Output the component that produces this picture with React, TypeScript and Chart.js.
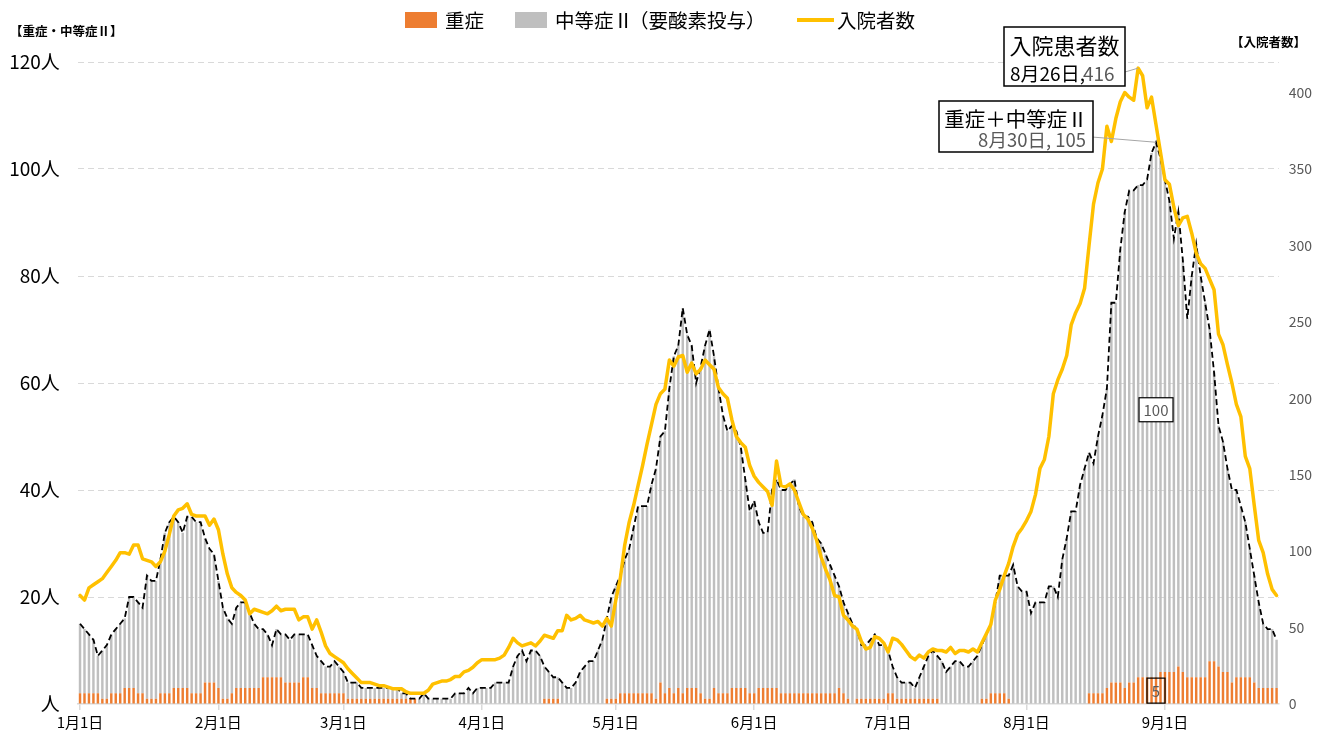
import React, { useEffect, useRef } from "react";
import { Chart, registerables } from "chart.js";

Chart.register(...registerables);

const FONT = '"Noto Sans CJK JP", "Noto Sans", sans-serif';

// Days per month shown (2021-01-01 .. 2021-09-26)
const MONTH_LENGTHS = [31, 28, 31, 30, 31, 30, 31, 31, 26];

const dayLabels: string[] = [];
const monthStartIdx: number[] = [];
MONTH_LENGTHS.forEach((len, m) => {
  monthStartIdx.push(dayLabels.length);
  for (let d = 1; d <= len; d++) dayLabels.push(`${m + 1}月${d}日`);
});

// 重症 (orange bars)
const SEVERE = [
  // Jan
  2, 2, 2, 2, 2, 1, 1, 2, 2, 2, 3, 3, 3, 2, 2, 1, 1, 1, 2, 2, 2, 3, 3, 3, 3, 2, 2, 2, 4, 4, 4,
  // Feb
  3, 1, 1, 2, 3, 3, 3, 3, 3, 3, 5, 5, 5, 5, 5, 4, 4, 4, 4, 5, 5, 3, 3, 2, 2, 2, 2, 2,
  // Mar
  2, 1, 1, 1, 1, 1, 1, 1, 1, 1, 1, 1, 1, 1, 1, 1, 1, 0, 0, 0, 0, 0, 0, 0, 0, 0, 0, 0, 0, 0, 0,
  // Apr
  0, 0, 0, 0, 0, 0, 0, 0, 0, 0, 0, 0, 0, 0, 1, 1, 1, 1, 0, 0, 0, 0, 0, 0, 0, 0, 0, 0, 1, 1,
  // May
  1, 2, 2, 2, 2, 2, 2, 2, 2, 1, 4, 2, 3, 2, 3, 2, 3, 3, 3, 2, 1, 1, 3, 2, 2, 2, 3, 3, 3, 3, 2,
  // Jun
  2, 3, 3, 3, 3, 3, 2, 2, 2, 2, 2, 2, 2, 2, 2, 2, 2, 2, 2, 3, 2, 1, 0, 1, 1, 1, 1, 1, 1, 1,
  // Jul
  2, 2, 1, 1, 1, 1, 1, 1, 1, 1, 1, 1, 0, 0, 0, 0, 0, 0, 0, 0, 0, 1, 1, 2, 2, 2, 2, 1, 0, 0, 0,
  // Aug
  0, 0, 0, 0, 0, 0, 0, 0, 0, 0, 0, 0, 0, 0, 2, 2, 2, 2, 3, 4, 4, 4, 3, 4, 4, 5, 5, 5, 5, 5, 6,
  // Sep
  6, 6, 6, 7, 6, 5, 5, 5, 5, 5, 8, 8, 7, 6, 6, 4, 5, 5, 5, 5, 4, 3, 3, 3, 3, 3,
];

// 重症＋中等症Ⅱ (dashed line / top of stacked bars)
const SEVERE_PLUS_MODERATE = [
  // Jan
  15, 14, 13, 12, 9, 10, 11, 13, 14, 15, 16, 20, 20, 19, 18, 24, 23, 23, 27, 32, 34, 35, 34, 32, 35, 35, 34, 34, 31, 29, 28,
  // Feb
  23, 18, 16, 15, 18, 19, 19, 17, 15, 14, 14, 13, 11, 14, 13, 13, 12, 13, 13, 13, 13, 11, 9, 8, 7, 7, 8, 7,
  // Mar
  6, 4, 4, 4, 3, 3, 3, 3, 3, 3, 3, 3, 3, 2, 2, 1, 1, 1, 2, 1, 1, 1, 1, 1, 1, 2, 2, 2, 3, 2, 3,
  // Apr
  3, 3, 3, 4, 4, 4, 4, 7, 9, 10, 8, 10, 10, 9, 7, 6, 5, 5, 4, 3, 3, 4, 6, 7, 8, 8, 10, 12, 16, 20,
  // May
  22, 24, 27, 29, 33, 37, 37, 37, 41, 44, 50, 51, 59, 65, 67, 74, 69, 67, 60, 63, 67, 70, 65, 59, 54, 51, 52, 51, 48, 42, 36,
  // Jun
  38, 34, 32, 32, 40, 42, 40, 40, 41, 42, 37, 35, 35, 34, 31, 30, 28, 26, 24, 22, 19, 17, 15, 14, 11, 11, 12, 13, 11, 11,
  // Jul
  10, 7, 5, 4, 4, 4, 3, 5, 7, 9, 10, 9, 8, 6, 7, 8, 8, 7, 7, 8, 9, 11, 13, 15, 19, 24, 24, 24, 26, 22, 21,
  // Aug
  21, 17, 19, 19, 19, 22, 22, 20, 27, 31, 36, 36, 41, 44, 47, 45, 50, 54, 59, 75, 75, 85, 92, 96, 96, 97, 97, 98, 103, 105, 102,
  // Sep
  98, 94, 87, 92, 83, 72, 80, 86, 80, 75, 70, 62, 52, 49, 44, 40, 40, 37, 34, 29, 24, 19, 15, 14, 14, 12,
];

// 入院者数 (yellow line, right axis)
const HOSPITALIZED = [
  // Jan
  71, 68, 76, 78, 80, 82, 86, 90, 94, 99, 99, 98, 104, 104, 95, 94, 93, 90, 93, 100, 111, 123, 127, 128, 131, 124, 123, 123, 123, 117, 121,
  // Feb
  114, 98, 85, 76, 73, 71, 68, 59, 62, 61, 60, 59, 61, 64, 61, 62, 62, 62, 55, 57, 57, 49, 55, 47, 38, 33, 31, 29,
  // Mar
  27, 23, 20, 17, 14, 14, 14, 13, 12, 12, 11, 10, 10, 10, 8, 7, 7, 7, 7, 9, 13, 14, 15, 15, 16, 18, 18, 21, 22, 24, 27,
  // Apr
  29, 29, 29, 29, 30, 32, 37, 43, 40, 38, 39, 40, 38, 41, 45, 44, 43, 48, 48, 58, 55, 56, 58, 55, 54, 53, 54, 51, 56, 51,
  // May
  68, 82, 104, 119, 130, 143, 156, 170, 183, 196, 203, 206, 225, 221, 227, 228, 217, 223, 216, 219, 225, 222, 219, 207, 203, 200, 186, 175, 171, 168, 156,
  // Jun
  149, 145, 142, 139, 130, 159, 143, 142, 144, 140, 132, 124, 121, 115, 107, 96, 88, 81, 71, 70, 58, 55, 51, 49, 41, 36, 37, 44, 43, 40,
  // Jul
  34, 43, 42, 39, 35, 31, 29, 32, 30, 34, 36, 35, 35, 34, 37, 33, 35, 35, 34, 36, 34, 40, 46, 52, 68, 75, 84, 92, 103, 111, 115,
  // Aug
  120, 126, 137, 154, 160, 175, 203, 212, 219, 228, 248, 256, 262, 272, 300, 327, 341, 350, 378, 368, 383, 394, 400, 397, 395, 416, 411, 390, 397, 379, 361,
  // Sep
  343, 340, 325, 313, 318, 319, 308, 295, 288, 285, 278, 271, 242, 235, 222, 210, 196, 188, 162, 154, 130, 107, 99, 85, 75, 71,
];

// 中等症Ⅱ (gray bars) = total − severe
const MODERATE = SEVERE_PLUS_MODERATE.map((t, i) => Math.max(t - SEVERE[i], 0));

const LEFT_TICKS = [0, 20, 40, 60, 80, 100, 120];
const RIGHT_TICKS = [0, 50, 100, 150, 200, 250, 300, 350, 400];

const LEGEND_ITEMS = ["重症", "中等症Ⅱ（要酸素投与）", "入院者数"];
const LEFT_TITLE = "【重症・中等症Ⅱ】";
const RIGHT_TITLE = "【入院者数】";

const PEAK_HOSP_IDX = 237; // 8月26日
const PEAK_TOTAL_IDX = 241; // 8月30日

const ORANGE = "#ED7D31";
const GRAY = "#BFBFBF";
const YELLOW = "#FFC000";

const overlayPlugin = {
  id: "overlay",
  afterDraw(chart: any) {
    const ctx: CanvasRenderingContext2D = chart.ctx;
    const xS = chart.scales.x;
    const yS = chart.scales.y;
    const y2S = chart.scales.y2;
    ctx.save();

    // Legend
    ctx.textBaseline = "middle";
    ctx.textAlign = "left";
    ctx.font = `19.5px ${FONT}`;
    ctx.fillStyle = ORANGE;
    ctx.fillRect(405, 12, 32, 16);
    ctx.fillStyle = "#000";
    ctx.fillText(LEGEND_ITEMS[0], 445, 21);
    ctx.fillStyle = GRAY;
    ctx.fillRect(515, 12, 32, 16);
    ctx.fillStyle = "#000";
    ctx.fillText("中等症Ⅱ", 555, 21);
    const wA = ctx.measureText("中等症Ⅱ").width;
    ctx.fillText("（要酸素投与）", 555 + wA - 4, 21);
    ctx.strokeStyle = YELLOW;
    ctx.lineWidth = 4;
    ctx.beginPath();
    ctx.moveTo(797, 20);
    ctx.lineTo(834, 20);
    ctx.stroke();
    ctx.fillStyle = "#000";
    ctx.fillText(LEGEND_ITEMS[2], 837, 21);

    // Axis titles
    ctx.font = `bold 12.5px ${FONT}`;
    ctx.fillText(LEFT_TITLE, 10, 31);
    ctx.fillText(RIGHT_TITLE, 1231, 42);

    // Callout: 入院患者数 peak
    const hx = xS.getPixelForValue(PEAK_HOSP_IDX);
    const hy = y2S.getPixelForValue(HOSPITALIZED[PEAK_HOSP_IDX]);
    ctx.strokeStyle = "#a6a6a6";
    ctx.lineWidth = 1;
    ctx.beginPath();
    ctx.moveTo(1125, 72);
    ctx.lineTo(hx, hy);
    ctx.stroke();
    ctx.fillStyle = "#fff";
    ctx.fillRect(1004, 27, 121, 59);
    ctx.strokeStyle = "#000";
    ctx.lineWidth = 1.5;
    ctx.strokeRect(1004, 27, 121, 59);
    ctx.fillStyle = "#000";
    ctx.textAlign = "center";
    ctx.font = `22px ${FONT}`;
    ctx.fillText("入院患者数", 1064.5, 46);
    ctx.textAlign = "left";
    ctx.font = `19px ${FONT}`;
    const part1 = `${dayLabels[PEAK_HOSP_IDX]},`;
    ctx.fillStyle = "#000";
    ctx.fillText(part1, 1010, 74);
    const w1 = ctx.measureText(part1).width;
    ctx.fillStyle = "#595959";
    ctx.fillText(String(HOSPITALIZED[PEAK_HOSP_IDX]), 1010 + w1 - 2, 74);

    // Callout: 重症＋中等症Ⅱ peak
    const tx = xS.getPixelForValue(PEAK_TOTAL_IDX);
    const ty = yS.getPixelForValue(SEVERE_PLUS_MODERATE[PEAK_TOTAL_IDX]);
    ctx.strokeStyle = "#a6a6a6";
    ctx.lineWidth = 1;
    ctx.beginPath();
    ctx.moveTo(1092, 137);
    ctx.lineTo(tx, ty);
    ctx.stroke();
    ctx.fillStyle = "#fff";
    ctx.fillRect(939, 101, 154, 51);
    ctx.strokeStyle = "#000";
    ctx.lineWidth = 1.5;
    ctx.strokeRect(939, 101, 154, 51);
    ctx.fillStyle = "#000";
    ctx.textAlign = "center";
    ctx.font = `20.5px ${FONT}`;
    ctx.fillText("重症＋中等症Ⅱ", 1016, 119);
    ctx.textAlign = "right";
    ctx.font = `18.5px ${FONT}`;
    ctx.fillStyle = "#595959";
    ctx.fillText(`${dayLabels[PEAK_TOTAL_IDX]}, ${SEVERE_PLUS_MODERATE[PEAK_TOTAL_IDX]}`, 1086, 140);

    // Data labels on the peak bar
    const mod = MODERATE[PEAK_TOTAL_IDX];
    const sev = SEVERE[PEAK_TOTAL_IDX];
    const my = yS.getPixelForValue(sev + mod / 2);
    const sy = yS.getPixelForValue(sev / 2);
    ctx.font = `15px ${FONT}`;
    ctx.textAlign = "center";
    ctx.fillStyle = "#fff";
    ctx.fillRect(tx - 17, my - 12, 34, 24);
    ctx.strokeStyle = "#000";
    ctx.lineWidth = 1.2;
    ctx.strokeRect(tx - 17, my - 12, 34, 24);
    ctx.fillStyle = "#595959";
    ctx.fillText(String(mod), tx, my + 1);
    ctx.strokeRect(tx - 9, sy - 12.5, 18, 25);
    ctx.fillText(String(sev), tx, sy + 1);

    ctx.restore();
  },
};

export default function App() {
  const canvasRef = useRef<HTMLCanvasElement | null>(null);

  useEffect(() => {
    if (!canvasRef.current) return;
    const chart = new Chart(canvasRef.current, {
      type: "bar",
      data: {
        labels: dayLabels,
        datasets: [
          {
            type: "line",
            label: LEGEND_ITEMS[2],
            data: HOSPITALIZED,
            yAxisID: "y2",
            borderColor: YELLOW,
            borderWidth: 3.5,
            pointRadius: 0,
            tension: 0,
            borderJoinStyle: "round",
            borderCapStyle: "round",
            order: 0,
            stack: "hosp",
          } as any,
          {
            type: "line",
            label: "重症＋中等症Ⅱ",
            data: SEVERE_PLUS_MODERATE,
            yAxisID: "y",
            borderColor: "#000",
            borderWidth: 1.8,
            borderDash: [6, 3.5],
            pointRadius: 0,
            tension: 0,
            order: 1,
            stack: "total",
          } as any,
          {
            type: "bar",
            label: LEGEND_ITEMS[0],
            data: SEVERE,
            yAxisID: "y",
            backgroundColor: ORANGE,
            stack: "s",
            order: 2,
            barPercentage: 0.55,
            categoryPercentage: 1,
          },
          {
            type: "bar",
            label: LEGEND_ITEMS[1],
            data: MODERATE,
            yAxisID: "y",
            backgroundColor: GRAY,
            stack: "s",
            order: 3,
            barPercentage: 0.55,
            categoryPercentage: 1,
          },
        ],
      },
      options: {
        responsive: false,
        animation: false,
        devicePixelRatio: 1,
        layout: { padding: { top: 62, left: 0, right: 0, bottom: 0 } },
        plugins: {
          legend: { display: false },
          tooltip: { enabled: false },
        },
        scales: {
          x: {
            type: "category",
            stacked: true,
            offset: true,
            grid: {
              drawOnChartArea: false,
              offset: false,
              color: "#d9d9d9",
              tickLength: 6,
              lineWidth: 1.5,
            },
            border: { display: true, color: "#d9d9d9", width: 1.5 },
            ticks: {
              autoSkip: false,
              maxRotation: 0,
              minRotation: 0,
              padding: 3,
              color: "#000",
              font: { family: FONT, size: 15 },
            },
            afterBuildTicks: (scale: any) => {
              scale.ticks = monthStartIdx.map((v) => ({ value: v }));
            },
            afterFit: (scale: any) => {
              scale.height = 33;
            },
          },
          y: {
            type: "linear",
            position: "left",
            stacked: true,
            min: 0,
            max: 120,
            grid: {
              drawTicks: false,
              color: (c: any) => (c.tick && c.tick.value === 0 ? "rgba(0,0,0,0)" : "#d9d9d9"),
              lineWidth: 1,
            },
            border: { display: false, dash: [6, 4] },
            ticks: {
              padding: 18,
              color: "#000",
              font: { family: FONT, size: 19 },
              callback: (v: any) => (v === 0 ? "人" : `${v}人`),
            },
            afterBuildTicks: (scale: any) => {
              scale.ticks = LEFT_TICKS.map((v) => ({ value: v }));
            },
            afterFit: (scale: any) => {
              scale.width = 77.8;
            },
          },
          y2: {
            type: "linear",
            position: "right",
            min: 0,
            max: 420,
            grid: { display: false, drawOnChartArea: false, drawTicks: false },
            border: { display: false },
            ticks: {
              padding: 10,
              color: "#595959",
              font: { family: FONT, size: 14 },
            },
            afterBuildTicks: (scale: any) => {
              scale.ticks = RIGHT_TICKS.map((v) => ({ value: v }));
            },
            afterFit: (scale: any) => {
              scale.width = 40.2;
            },
          },
        },
      },
      plugins: [overlayPlugin],
    });
    return () => chart.destroy();
  }, []);

  return (
    <div style={{ position: "fixed", left: 0, top: 0, width: 1319, height: 737, background: "#fff" }}>
      <canvas ref={canvasRef} width={1319} height={737} style={{ width: 1319, height: 737 }} />
    </div>
  );
}
